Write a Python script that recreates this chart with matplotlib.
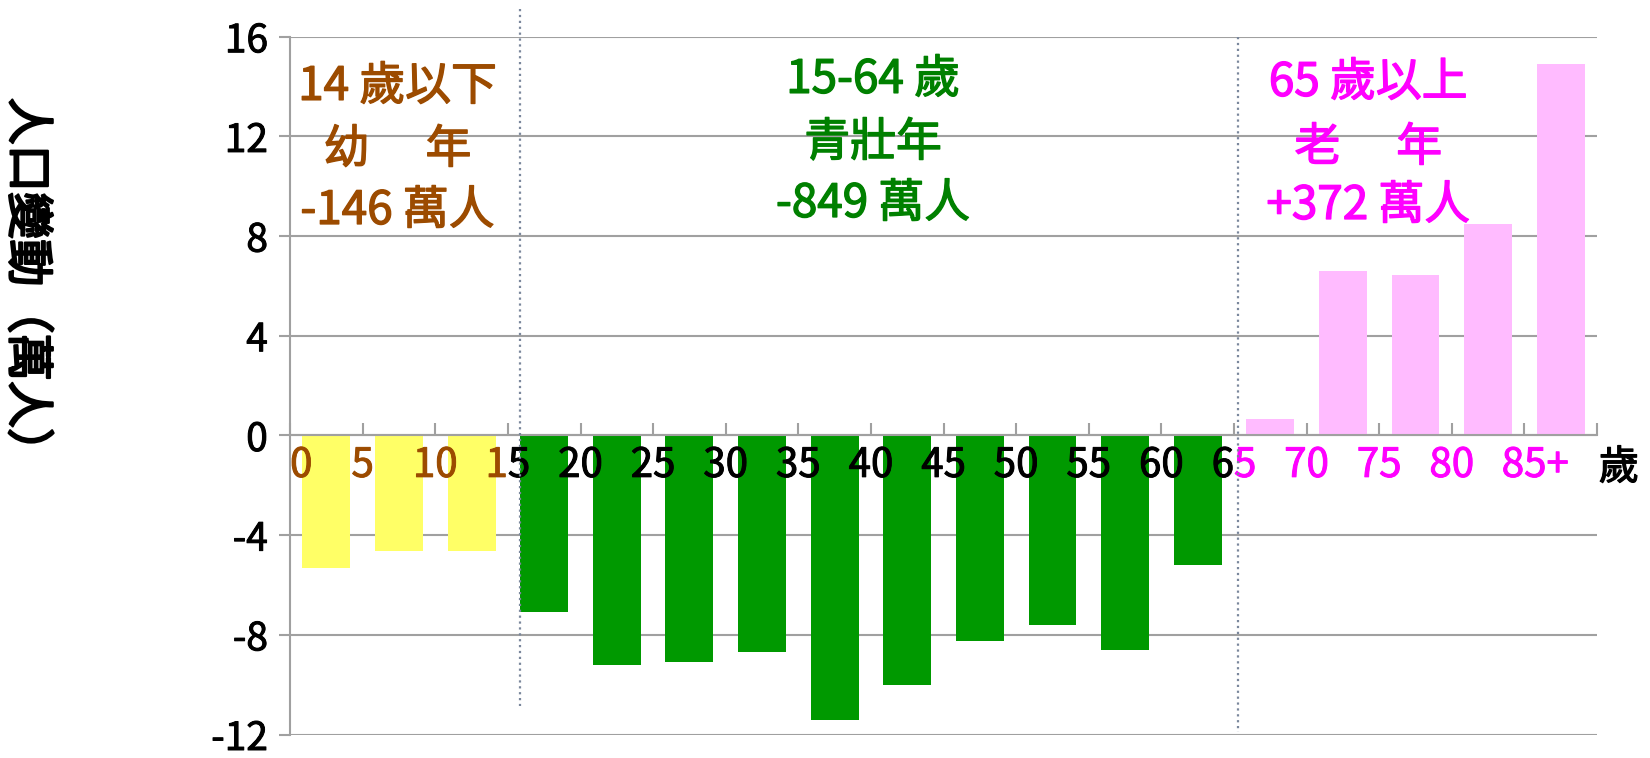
import numpy as np
import matplotlib.pyplot as plt
import matplotlib.patheffects as pe

plt.rcParams['font.family'] = ['Noto Sans CJK TC', 'DejaVu Sans']
plt.rcParams['axes.unicode_minus'] = False

# 各年齡組人口變動（萬人）
age_groups = ['0-4', '5-9', '10-14', '15-19', '20-24', '25-29', '30-34', '35-39', '40-44',
              '45-49', '50-54', '55-59', '60-64', '65-69', '70-74', '75-79', '80-84', '85+']
change = [-5.3, -4.65, -4.65, -7.1, -9.2, -9.1, -8.7, -11.4, -10.0,
          -8.25, -7.6, -8.6, -5.2, 0.65, 6.6, 6.45, 8.5, 14.9]
bar_colors = ['#FFFF66'] * 3 + ['#009900'] * 10 + ['#FFBBFF'] * 5

tick_labels = ['0', '5', '10', '15', '20', '25', '30', '35', '40',
               '45', '50', '55', '60', '65', '70', '75', '80', '85+']
brown, green, magenta = '#9C4B00', '#008000', '#FF00FF'
tick_colors = [brown, brown, brown, (brown, 'black')] + ['black'] * 9 + [('black', magenta)] + [magenta] * 4

groups = [
    (['14 歲以下', '幼　 年', '-146 萬人'], brown, 1.48, [86, 149, 210]),
    (['15-64 歲', '青壯年', '-849 萬人'], green, 8.03, [79, 142, 203]),
    (['65 歲以上', '老　 年', '+372 萬人'], magenta, 14.85, [82, 147, 205]),
]


def thick(col, w=0.9):
    return [pe.withStroke(linewidth=w, foreground=col)]


fig = plt.figure(figsize=(16.5, 7.58), dpi=100)
ax = fig.add_axes([0.1758, 0.031, 0.7921, 0.9205])

x = np.arange(len(change)) + 0.5
ax.bar(x, change, width=0.66, color=bar_colors, zorder=2)

ax.set_xlim(0, len(change))
ax.set_ylim(-12, 16)
ax.set_yticks(np.arange(-12, 17, 4))
ax.grid(axis='y', color='#A0A0A0', lw=1.5, zorder=0)
ax.set_axisbelow(True)
for s in ['top', 'right']:
    ax.spines[s].set_visible(False)
ax.spines['bottom'].set_position(('data', 0))
for s in ['bottom', 'left']:
    ax.spines[s].set_color('#A0A0A0')
    ax.spines[s].set_linewidth(1.5)

ax.set_xticks(range(len(change) + 1))
ax.tick_params(axis='x', direction='in', length=9, color='#A0A0A0', width=1.5, labelbottom=False)
ax.tick_params(axis='y', direction='out', length=8, color='#A0A0A0', width=1.5,
               labelsize=28, pad=8)
for t in ax.get_yticklabels():
    t.set_path_effects(thick('black', 0.7))

# x 軸標籤
ylab = -1.2
for i, (lab, col) in enumerate(zip(tick_labels, tick_colors)):
    if isinstance(col, tuple):
        ax.text(i, ylab, lab[0], color=col[0], ha='right', va='center', fontsize=29,
                path_effects=thick(col[0], 0.7))
        ax.text(i, ylab, lab[1], color=col[1], ha='left', va='center', fontsize=29,
                path_effects=thick(col[1], 0.7))
    else:
        ha = 'left' if i == 0 else 'center'
        xi = i + 0.15 if lab == '85+' else i
        ax.text(xi, ylab, lab, color=col, ha=ha, va='center', fontsize=29,
                path_effects=thick(col, 0.7))
ax.text(18.3, ylab - 0.1, '歲', color='black', ha='center', va='center', fontsize=29,
        path_effects=thick('black', 0.9))

# 分隔虛線
ax.plot([3.17, 3.17], [17.1, -10.85], ls=':', color='#7A879C', lw=1.6, clip_on=False, zorder=3)
ax.plot([13.05, 13.05], [16, -11.9], ls=':', color='#7A879C', lw=1.6, clip_on=False, zorder=3)

# 組別說明
for lines, col, xc, ypx in groups:
    for line, py in zip(lines, ypx):
        ax.text(xc, (434.6 - py) / 24.9, line, color=col, ha='center', va='center',
                fontsize=33, path_effects=thick(col, 1.0))

fig.text(0.016, 0.622, '人口變動（萬人）', rotation=270, ha='center', va='center',
         fontsize=34, path_effects=thick('black', 1.6))

fig.savefig('out.png', dpi=100)
